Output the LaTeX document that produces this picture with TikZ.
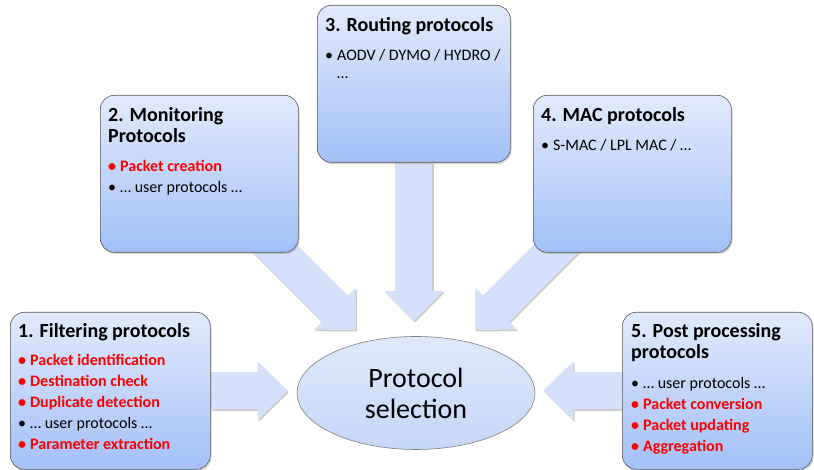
\documentclass[tikz,border=0pt]{standalone}
\usepackage{fontspec}
\setmainfont{Carlito}
\usetikzlibrary{positioning,arrows.meta,shapes.geometric,shadows,backgrounds}

\definecolor{boxtop}{HTML}{E1EAFC}
\definecolor{boxbot}{HTML}{A3C0F7}
\definecolor{arrfill}{HTML}{D5E1FA}
\definecolor{selfill}{HTML}{C4D7F8}
\definecolor{ptred}{HTML}{FF0000}

\newcommand\hd[1]{{\fontsize{20}{21}\selectfont\bfseries #1}}
\newcommand\rit[1]{{\color{ptred}\bfseries\textbullet\hspace{4pt}#1}}
\newcommand\bit[1]{\textbullet\hspace{4pt}#1}

\begin{document}
\begin{tikzpicture}[x=1pt, y=-1pt,
  box/.style={rectangle, rounded corners=14pt, draw=black!65, line width=0.6pt,
              top color=boxtop, bottom color=boxbot, anchor=north west,
              minimum width=198pt, minimum height=157pt, inner sep=0pt,
              drop shadow={opacity=.35, shadow xshift=1.2pt, shadow yshift=-1.8pt}},
  txt/.style={anchor=north west, inner sep=0pt, align=left, font=\fontsize{16}{21}\selectfont},
  sel/.style={ellipse, draw=black!50, line width=0.6pt, top color=selfill!55!white,
              bottom color=selfill, minimum width=238pt, minimum height=113pt,
              inner sep=0pt, align=center, font=\fontsize{28}{31}\selectfont},
  blk/.style={draw=arrfill, line width=37pt,
              -{Triangle[length=30pt, width=59pt, line width'=0pt]}},
  blksh/.style={blk, draw=black!45, opacity=.45, transform canvas={shift={(1.2pt,-1.5pt)}}}
]
\useasboundingbox (0,0) rectangle (814,470);

% protocol boxes
\node[box, minimum width=200pt] (filt) at (10,312) {};
\node[box]                      (mon)  at (100,95) {};
\node[box, minimum width=193pt] (rout) at (317,5) {};
\node[box]                      (mac)  at (533,95) {};
\node[box, minimum width=190pt] (post) at (622,312) {};

\node[sel] (sel) at (416,393) {Protocol\\selection};

% box texts
\node[txt] (filt-t) at ([shift={(8pt,-11pt)}]filt.north west)
  {\hd{1. Filtering protocols}\\[7pt]
   \rit{Packet identification}\\
   \rit{Destination check}\\
   \rit{Duplicate detection}\\
   \bit{… user protocols …}\\
   \rit{Parameter extraction}};
\node[txt] (mon-t) at ([shift={(8pt,-12pt)}]mon.north west)
  {\hd{2. Monitoring}\\
   \hd{Protocols}\\[8pt]
   \rit{Packet creation}\\
   \bit{… user protocols …}};
\node[txt] (rout-t) at ([shift={(8pt,-12pt)}]rout.north west)
  {\hd{3. Routing protocols}\\[8pt]
   \bit{AODV / DYMO / HYDRO /}\\[-3pt]
   \phantom{\textbullet}\hspace{4pt}…};
\node[txt] (mac-t) at ([shift={(8pt,-12pt)}]mac.north west)
  {\hd{4. MAC protocols}\\[8pt]
   \bit{S-MAC / LPL MAC / …}};
\node[txt] (post-t) at ([shift={(9pt,-11pt)}]post.north west)
  {\hd{5. Post processing}\\
   \hd{protocols}\\[9pt]
   \bit{… user protocols …}\\
   \rit{Packet conversion}\\
   \rit{Packet updating}\\
   \rit{Aggregation}};

% block arrows behind the boxes
\coordinate (ta) at (356,330);
\coordinate (tb) at (475,330);
\begin{scope}[on background layer]
\draw[blksh, shorten >=9pt] (filt.east) -- (filt.east -| sel.west);
\draw[blk, shorten >=9pt]   (filt.east) -- (filt.east -| sel.west);
\draw[blksh, shorten >=8pt] (post.west) -- (post.west -| sel.east);
\draw[blk, shorten >=8pt]   (post.west) -- (post.west -| sel.east);
\draw[blksh, shorten >=15pt] (rout.south) -- (rout.south |- sel.north);
\draw[blk, shorten >=15pt]   (rout.south) -- (rout.south |- sel.north);
\draw[blksh] ([xshift=-40pt,yshift=20pt]mon.south east) -- (ta);
\draw[blk]   ([xshift=-40pt,yshift=20pt]mon.south east) -- (ta);
\draw[blksh] ([xshift=39pt,yshift=20pt]mac.south west) -- (tb);
\draw[blk]   ([xshift=39pt,yshift=20pt]mac.south west) -- (tb);
\end{scope}
\end{tikzpicture}
\end{document}
